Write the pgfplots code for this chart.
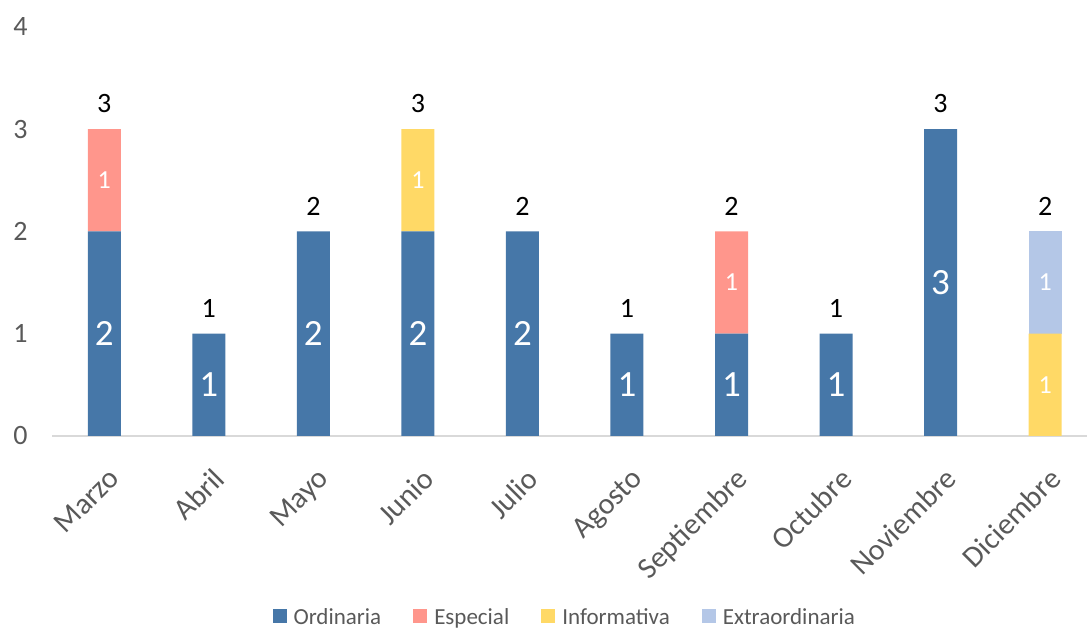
\documentclass[border=0pt]{standalone}
\usepackage{pgfplots}
\pgfplotsset{compat=1.18}
\usepackage{fontspec}
\setmainfont{Carlito}
\definecolor{cOrd}{HTML}{4677A8}
\definecolor{cEsp}{HTML}{FF968C}
\definecolor{cInf}{HTML}{FFD966}
\definecolor{cExt}{HTML}{B4C7E7}
\definecolor{txt}{HTML}{595959}
\definecolor{axl}{HTML}{D9D9D9}
\pgfplotsset{
  base/.style={
    at={(52pt,192pt)}, anchor=south west,
    scale only axis, width=1035pt, height=409pt,
    xmin=-0.5, xmax=9.4, ymin=0, ymax=4,
  }
}
\begin{document}
\begin{tikzpicture}
\useasboundingbox (0,0) rectangle (1087pt,628pt);
\begin{axis}[base,
  ybar stacked, bar width=33pt,
  axis lines*=left,
  x axis line style={draw=axl, line width=1.5pt},
  y axis line style={draw=none},
  major tick length=0pt,
  xtick={0,...,9},
  xticklabels={Marzo,Abril,Mayo,Junio,Julio,Agosto,Septiembre,Octubre,Noviembre,Diciembre},
  xticklabel style={rotate=45, anchor=north east, font=\fontsize{30}{34}\selectfont, text=txt, xshift=-16pt, yshift=-20pt},
  ytick={0,1,2,3,4},
  yticklabel style={font=\fontsize{28}{32}\selectfont, text=txt, xshift=-21pt},
  /pgf/number format/assume math mode=true,
  legend columns=-1,
  legend style={at={(0.479,-0.4425)}, anchor=center, draw=none, fill=none,
    font=\fontsize{23}{27}\selectfont, text=txt,
    nodes={inner sep=0pt}},
  legend image code/.code={\fill[#1] (0pt,-6pt) rectangle (14pt,8pt); \path (-32pt,0pt) (21pt,0pt);},
]
\addplot[fill=cOrd, draw=none] coordinates {(0,2) (1,1) (2,2) (3,2) (4,2) (5,1) (6,1) (7,1) (8,3) (9,0)};
\addplot[fill=cEsp, draw=none] coordinates {(0,1) (1,0) (2,0) (3,0) (4,0) (5,0) (6,1) (7,0) (8,0) (9,0)};
\addplot[fill=cInf, draw=none] coordinates {(0,0) (1,0) (2,0) (3,1) (4,0) (5,0) (6,0) (7,0) (8,0) (9,1)};
\addplot[fill=cExt, draw=none] coordinates {(0,0) (1,0) (2,0) (3,0) (4,0) (5,0) (6,0) (7,0) (8,0) (9,1)};
\legend{Ordinaria,Especial,Informativa,Extraordinaria}
\end{axis}
\begin{axis}[base, hide axis,
  nodes near coords, point meta=explicit symbolic,
  every node near coord/.append style={anchor=center},
]
\addplot[only marks, mark=none, nodes near coords style={text=white, font=\fontsize{37}{40}\selectfont}]
  coordinates {(0,1)[2] (1,0.5)[1] (2,1)[2] (3,1)[2] (4,1)[2] (5,0.5)[1] (6,0.5)[1] (7,0.5)[1] (8,1.5)[3]};
\addplot[only marks, mark=none, nodes near coords style={text=white, font=\fontsize{26}{30}\selectfont}]
  coordinates {(0,2.5)[1] (3,2.5)[1] (6,1.5)[1] (9,0.5)[1] (9,1.5)[1]};
\addplot[only marks, mark=none, nodes near coords style={text=black, font=\fontsize{28}{32}\selectfont}]
  coordinates {(0,3.25)[3] (1,1.25)[1] (2,2.25)[2] (3,3.25)[3] (4,2.25)[2] (5,1.25)[1] (6,2.25)[2] (7,1.25)[1] (8,3.25)[3] (9,2.25)[2]};
\end{axis}
\end{tikzpicture}
\end{document}
